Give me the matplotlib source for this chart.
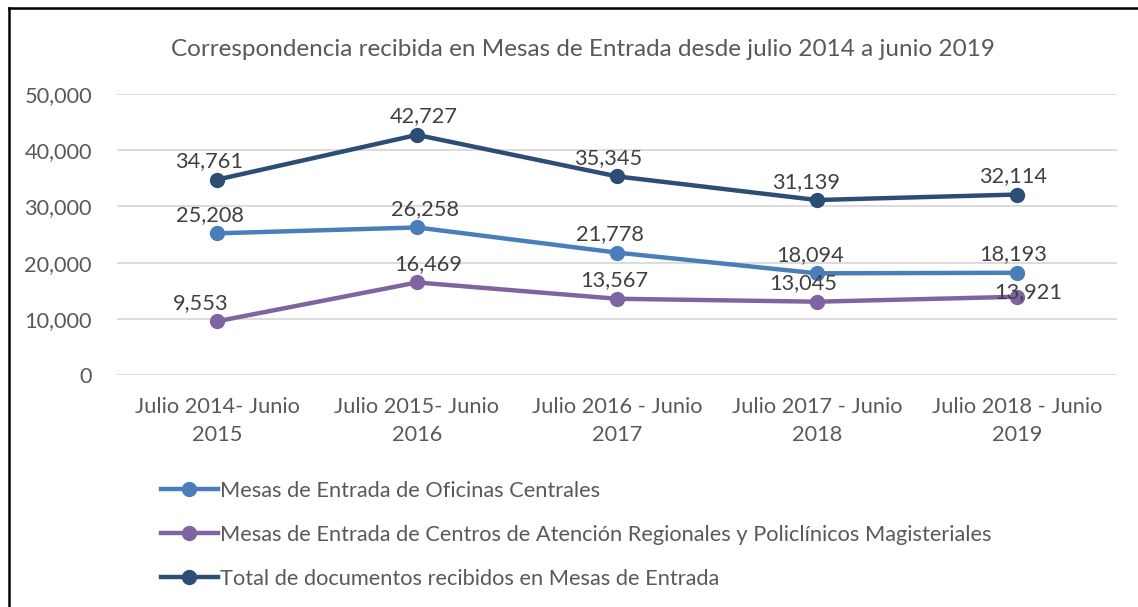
import numpy as np
import matplotlib
matplotlib.use("Agg")
import matplotlib.pyplot as plt
from matplotlib.ticker import FuncFormatter

plt.rcParams['font.family'] = ['Lato', 'DejaVu Sans']

###--- Data
periods = ["Julio 2014- Junio\n2015", "Julio 2015- Junio\n2016", "Julio 2016 - Junio\n2017",
           "Julio 2017 - Junio\n2018", "Julio 2018 - Junio\n2019"]
centrales = [25208, 26258, 21778, 18094, 18193]
regionales = [9553, 16469, 13567, 13045, 13921]
total = [34761, 42727, 35345, 31139, 32114]

names = ["Mesas de Entrada de Oficinas Centrales",
         "Mesas de Entrada de Centros de Atención Regionales y Policlínicos Magisteriales",
         "Total de documentos recibidos en Mesas de Entrada"]
colors = ["#4A7EBB", "#8064A2", "#2C4D75"]

# label offsets (points) - placed by hand like in the original
off_c = [(-5, 6), (6, 6), (-5, 6), (-5, 6), (-3, 6)]
off_r = [(-12, 6), (8, 6), (-2, 6), (-10, 6), (8, -4)]
off_t = [(-6, 6), (5, 6), (-6, 6), (-8, 6), (-3, 6)]

txt = "#595959"
fs = 15.7

fig = plt.figure(figsize=(11.38, 6.07), dpi=100)
ax = fig.add_axes([0.1028, 0.3822, 0.8787, 0.4629])

xx = np.arange(len(periods))
series = [centrales, regionales, total]
offsets = [off_c, off_r, off_t]
for vals, name, col, offs in zip(series, names, colors, offsets):
    ax.plot(xx, vals, '-o', color=col, lw=3.2, markersize=10, label=name, zorder=3)
    for x, v, (dx, dy) in zip(xx, vals, offs):
        ax.annotate(f"{v:,}", (x, v), xytext=(dx, dy), textcoords='offset points',
                    ha='center', va='bottom', fontsize=fs, color="#404040", zorder=4)

ax.set_xlim(-0.5, 4.5)
ax.set_ylim(0, 50000)
ax.set_yticks(np.arange(0, 50001, 10000))
ax.yaxis.set_major_formatter(FuncFormatter(lambda v, p: f"{int(v):,}"))
ax.set_xticks(xx)
ax.set_xticklabels(periods, linespacing=1.5)
ax.tick_params(axis='both', length=0, labelsize=fs, colors=txt)
ax.tick_params(axis='x', pad=16)
ax.tick_params(axis='y', pad=18)
ax.grid(axis='y', color='#D9D9D9', lw=1.3)
ax.set_axisbelow(True)
for s in ax.spines.values():
    s.set_visible(False)

fig.text(0.512, 0.918, "Correspondencia recibida en Mesas de Entrada desde julio 2014 a junio 2019",
         ha='center', va='center', fontsize=17.5, color=txt)

leg = fig.legend(loc='upper left', bbox_to_anchor=(0.132, 0.226), frameon=False,
                 fontsize=fs, labelcolor=txt, handlelength=2.6, handletextpad=0.1,
                 labelspacing=1.1, borderpad=0)

# frame edges visible in the cropped original (top and left)
fig.add_artist(plt.Line2D([0.008, 1.0], [0.987, 0.987], color='black', lw=1.8, transform=fig.transFigure))
fig.add_artist(plt.Line2D([0.008, 0.008], [0.0, 0.987], color='black', lw=1.8, transform=fig.transFigure))

fig.savefig("out.png", dpi=100)
